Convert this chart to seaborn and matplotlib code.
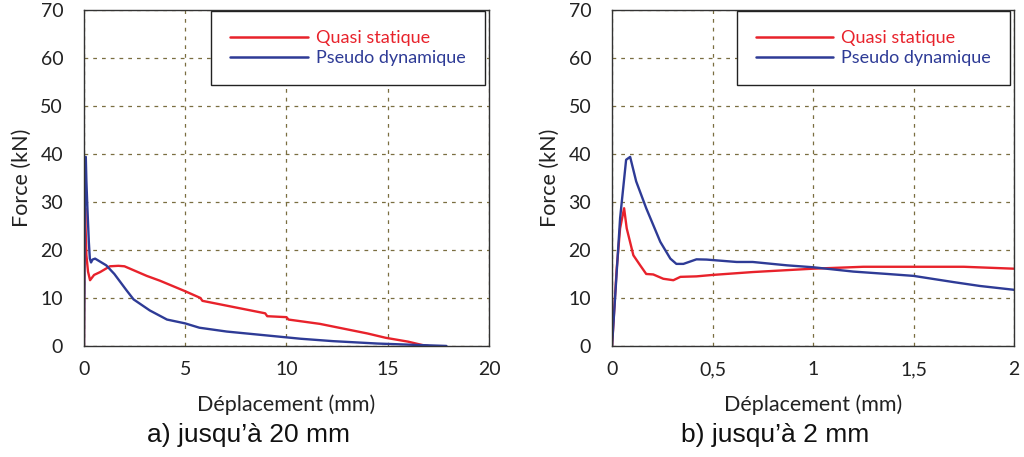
import numpy as np
import pandas as pd
import matplotlib
matplotlib.use("Agg")
import matplotlib.pyplot as plt
import seaborn as sns

# ---- Data ----
# Panel a) up to 20 mm
qs_a_x = [0, 0.02, 0.04, 0.06, 0.08, 0.12, 0.2, 0.3, 0.5, 0.8, 1.28, 1.7, 2.0, 3.1, 3.75, 5.0, 5.75, 5.85,
          7.4, 8.95, 9.05, 10.0, 10.1, 11.65, 14.0, 14.9, 16.0, 16.7, 17.0]
qs_a_y = [0, 16, 24.5, 28.7, 24.5, 18.9, 15.5, 13.7, 14.8, 15.4, 16.6, 16.7, 16.6, 14.6, 13.6, 11.4, 10.0, 9.4,
          8.1, 6.8, 6.2, 6.0, 5.5, 4.6, 2.6, 1.7, 0.9, 0.2, 0.0]
pd_a_x = [0, 0.04, 0.07, 0.09, 0.12, 0.17, 0.24, 0.29, 0.35, 0.42, 0.55, 1.1, 1.5, 2.1, 2.45, 3.25, 4.1,
          5.0, 5.7, 7.05, 9.0, 10.7, 12.3, 14.5, 16.5, 17.9]
pd_a_y = [0, 26.6, 38.8, 39.4, 34.3, 28.7, 21.7, 18.2, 17.4, 18.0, 18.2, 16.8, 15.0, 11.6, 9.7, 7.4, 5.5,
          4.7, 3.8, 3.0, 2.2, 1.5, 1.0, 0.5, 0.2, 0.0]

# Panel b) up to 2 mm
qs_b_x = [0, 0.023, 0.04, 0.06, 0.073, 0.106, 0.14, 0.17, 0.205, 0.255, 0.305, 0.34, 0.42, 0.5, 0.7,
          1.0, 1.25, 1.5, 1.75, 2.0]
qs_b_y = [0, 16.0, 24.5, 28.7, 24.5, 18.9, 16.8, 15.0, 14.9, 14.0, 13.7, 14.4, 14.5, 14.8, 15.4,
          16.1, 16.5, 16.5, 16.5, 16.1]
pd_b_x = [0, 0.04, 0.07, 0.09, 0.12, 0.17, 0.24, 0.29, 0.32, 0.355, 0.42, 0.47, 0.62, 0.70, 0.87,
          1.0, 1.2, 1.37, 1.5, 1.70, 1.83, 2.0]
pd_b_y = [0, 26.6, 38.8, 39.4, 34.3, 28.7, 21.7, 18.2, 17.1, 17.1, 18.05, 18.0, 17.5, 17.5, 16.8,
          16.4, 15.5, 15.0, 14.6, 13.3, 12.5, 11.7]

series_names = ["Quasi statique", "Pseudo dynamique"]
colors = ["#E8222B", "#2E3B96"]

x_ticks_a = [0, 5, 10, 15, 20]
x_ticks_b = [0, 0.5, 1, 1.5, 2]
x_ticklabels_b = ["0", "0,5", "1", "1,5", "2"]
y_ticks = [0, 10, 20, 30, 40, 50, 60, 70]
titles = ["a) jusqu\u2019à 20 mm", "b) jusqu\u2019à 2 mm"]

sns.set_style("white")
plt.rcParams["font.family"] = ["Lato", "DejaVu Sans"]

fig = plt.figure(figsize=(10.24, 4.57), dpi=100)
ax_a = fig.add_axes([0.082, 0.243, 0.3955, 0.735])
ax_b = fig.add_axes([0.5977, 0.243, 0.3926, 0.735])

def make_df(xq, yq, xp, yp):
    d1 = pd.DataFrame({"x": xq, "y": yq, "s": series_names[0]})
    d2 = pd.DataFrame({"x": xp, "y": yp, "s": series_names[1]})
    return pd.concat([d1, d2], ignore_index=True)

dfa = make_df(qs_a_x, qs_a_y, pd_a_x, pd_a_y)
dfb = make_df(qs_b_x, qs_b_y, pd_b_x, pd_b_y)

grid_col = "#7A6E40"
for ax, df, xt, xtl, xmax, title, xc in [
        (ax_a, dfa, x_ticks_a, [str(v) for v in x_ticks_a], 20, titles[0], 0.243),
        (ax_b, dfb, x_ticks_b, x_ticklabels_b, 2, titles[1], 0.757)]:
    sns.lineplot(data=df, x="x", y="y", hue="s", palette=colors, sort=False,
                 estimator=None, linewidth=1.7, ax=ax, legend=True)
    ax.set_xlim(0, xmax)
    ax.set_ylim(0, 70)
    ax.set_xticks(xt)
    ax.set_xticklabels(xtl)
    ax.set_yticks(y_ticks)
    ax.tick_params(axis="both", labelsize=14, labelcolor="#222222", length=0)
    ax.tick_params(axis="x", pad=11)
    ax.tick_params(axis="y", pad=15)
    ax.grid(True, color=grid_col, linestyle=(0, (3, 4)), linewidth=0.9)
    ax.set_axisbelow(True)
    for sp in ax.spines.values():
        sp.set_color("#333333")
        sp.set_linewidth(1.0)
    ax.set_xlabel("Déplacement (mm)", fontsize=15.5, color="#222222", labelpad=12)
    ax.set_ylabel("Force (kN)", fontsize=15.5, color="#222222", labelpad=6)
    leg = ax.legend(loc="upper right", bbox_to_anchor=(0.99, 0.996), borderaxespad=0,
                    fontsize=13.0, handlelength=4.3, frameon=True, fancybox=False,
                    borderpad=1.05, labelspacing=0.2, handletextpad=0.45)
    leg.get_frame().set_edgecolor("#222222")
    leg.get_frame().set_linewidth(1.0)
    leg.get_frame().set_alpha(1)
    for txt, c in zip(leg.get_texts(), colors):
        txt.set_color(c)
    for ln in leg.get_lines():
        ln.set_linewidth(1.8)
    fig.text(xc, 0.048, title, ha="center", va="center", fontsize=19,
             family="Liberation Sans", color="#111111")

fig.savefig("out.png", dpi=100)
